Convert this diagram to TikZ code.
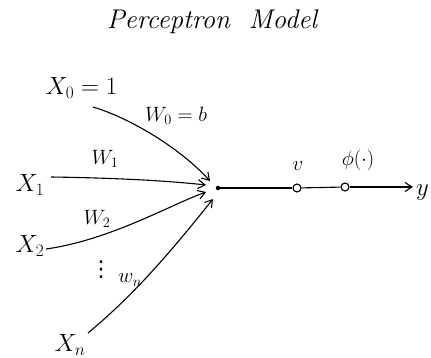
\documentclass[tikz,border=0pt]{standalone}
\usepackage{fontspec}
\newfontfamily\symfont{DejaVu Sans}
\usetikzlibrary{arrows.meta}
\begin{document}
\begin{tikzpicture}[x=1pt,y=-1pt,
  conn/.style={draw=black,line width=1.1pt,-{Straight Barb[length=7pt,width=9pt]}},
  lbl/.style={font=\fontsize{26}{28}\selectfont},
  wlbl/.style={font=\fontsize{20}{22}\selectfont},
  odot/.style={circle,draw,line width=1.1pt,fill=white,inner sep=0pt,minimum size=8pt}]
\useasboundingbox (0,0) rectangle (431,358);
\node[font=\fontsize{27}{29}\selectfont\itshape] (title) at (212,22) {Perceptron\ \ Model};
\node[lbl,anchor=west] (x0) at (42,88) {$X_0 = 1$};
\node[lbl] (x1) at (30,185) {$X_1$};
\node[lbl] (x2) at (30,246) {$X_2$};
\node[lbl] (xn) at (70,345) {$X_n$};
\node[circle,fill=black,inner sep=0pt,minimum size=4.5pt] (sum) at (218,188) {};
\coordinate (s0) at (93,107);
\coordinate (s1) at (51,177);
\coordinate (s2) at (46,249);
\coordinate (sn) at (88,333);
\coordinate (e0) at (210,181);
\coordinate (e1) at (206,185);
\coordinate (e2) at (206,192);
\coordinate (en) at (213,199);
\draw[conn] (s0) .. controls (130,118) and (180,148) .. (e0);
\draw[conn] (s1) .. controls (120,178) and (170,181) .. (e1);
\draw[conn] (s2) .. controls (110,240) and (170,205) .. (e2);
\draw[conn] (sn) .. controls (140,290) and (180,240) .. (en);
\node[wlbl] (w0) at (176,116) {$W_0 = b$};
\node[wlbl] (w1) at (105,159) {$W_1$};
\node[wlbl] (w2) at (97,219) {$W_2$};
\node[font=\fontsize{22}{24}\selectfont\symfont] (vd) at (101,270) {⋮};
\node[wlbl] (wn) at (130,280) {$w_n$};
\node[odot] (v) at (297,188) {};
\node[odot] (phi) at (345,187) {};
\coordinate (out) at (413,187);
\draw[line width=1.1pt] (sum) -- (v);
\draw[line width=1.1pt] (v) -- (phi);
\draw[conn] (phi) -- (out);
\node[wlbl] (vl) at (298,166) {$v$};
\node[wlbl] (phil) at (358,160) {$\phi(\cdot)$};
\node[lbl,anchor=west,inner sep=1pt] (y) at (415,193) {$y$};
\end{tikzpicture}
\end{document}
